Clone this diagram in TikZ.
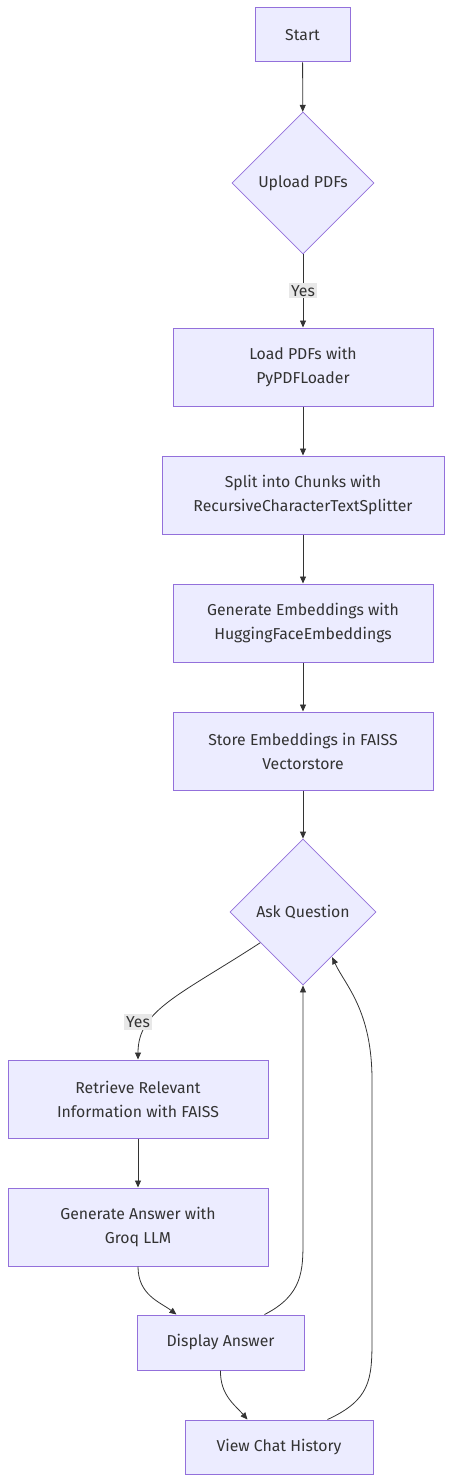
\documentclass[tikz,border=0pt]{standalone}
\usepackage{fontspec}
\setmainfont{Fira Sans}
\usetikzlibrary{shapes.geometric,arrows.meta}
\definecolor{boxfill}{HTML}{ECECFF}
\definecolor{boxline}{HTML}{9370DB}
\definecolor{edge}{HTML}{333333}
\definecolor{lblfill}{HTML}{E8E8E8}

\begin{document}
\begin{tikzpicture}[x=1pt,y=-1pt,
  every node/.style={text=edge,font=\fontsize{15.8}{24}\selectfont},
  box/.style={rectangle,draw=boxline,fill=boxfill,line width=1pt,align=center,inner sep=0pt},
  choice/.style={diamond,draw=boxline,fill=boxfill,line width=0.8pt,inner sep=0pt},
  lbl/.style={fill=lblfill,inner sep=2pt},
  flow/.style={draw=edge,line width=0.8pt,-{Triangle[length=7pt,width=6pt]}}]
\useasboundingbox (0,0) rectangle (452,1482);

\node[box,minimum width=95pt,minimum height=54pt] (start) at (302.5,35) {Start};
\node[choice,minimum width=142pt,minimum height=142pt] (upload) at (303,183) {Upload PDFs};
\node[box,minimum width=260pt,minimum height=78pt] (load) at (303,367) {Load PDFs with\\PyPDFLoader};
\node[box,minimum width=282pt,minimum height=78pt] (split) at (303,495) {Split into Chunks with\\RecursiveCharacterTextSplitter};
\node[box,minimum width=260pt,minimum height=78pt] (embed) at (303,623) {Generate Embeddings with\\HuggingFaceEmbeddings};
\node[box,minimum width=260pt,minimum height=78pt] (store) at (303,751) {Store Embeddings in FAISS\\Vectorstore};
\node[choice,minimum width=146pt,minimum height=146pt] (ask) at (303,912) {Ask Question};
\node[box,minimum width=260pt,minimum height=78pt] (retrieve) at (138,1099) {Retrieve Relevant\\Information with FAISS};
\node[box,minimum width=260pt,minimum height=78pt] (answer) at (138,1227) {Generate Answer with\\Groq LLM};
\node[box,minimum width=167pt,minimum height=55pt] (display) at (220.5,1342.5) {Display Answer};
\node[box,minimum width=188pt,minimum height=54pt] (history) at (279,1447) {View Chat History};

\draw[flow] (start) -- (upload);
\draw[flow] (upload) -- node[lbl] (yes1) {Yes} (load);
\draw[flow] (load) -- (split);
\draw[flow] (split) -- (embed);
\draw[flow] (embed) -- (store);
\draw[flow] (store) -- (ask);
\draw[flow] ([xshift=-6pt,yshift=6pt]ask.south west) .. controls (180,995) and (138,1010) .. (retrieve.north);
\node[lbl] (yes2) at (138,1022) {Yes};
\draw[flow] (retrieve) -- (answer);
\draw[flow] (answer.south) .. controls (138,1295) and (160,1302) .. ([xshift=40pt]display.north west);
\draw[flow] ([xshift=-40pt]display.north east) .. controls (303,1295) and (303,1270) .. (303,1240) -- (ask.south);
\draw[flow] (display.south) .. controls (220,1395) and (235,1405) .. ([xshift=63pt]history.north west);
\draw[flow] ([xshift=143pt]history.north west) .. controls (370,1400) and (372,1380) .. (372,1340) -- (372,1080) .. controls (372,1010) and (345,985) .. ([xshift=-7.5pt,yshift=-8.5pt]ask.south east);
\end{tikzpicture}
\end{document}
